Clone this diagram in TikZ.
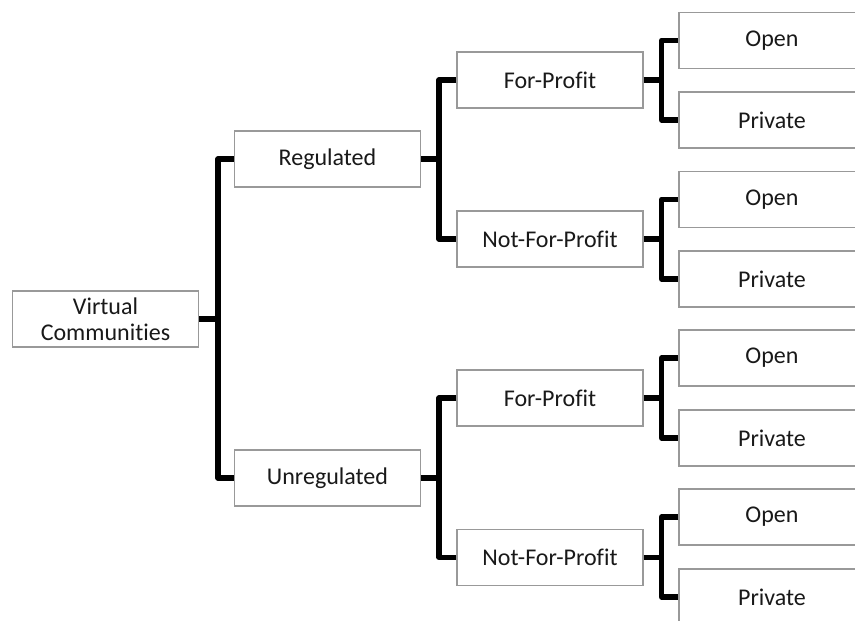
\documentclass[tikz,border=0pt]{standalone}
\usepackage{fontspec}
\setmainfont{Carlito}[Ligatures=NoCommon]
\begin{document}
\begin{tikzpicture}[x=1pt,y=-1pt,
  box/.style={draw=black!40, line width=1.3pt, fill=white, minimum width=186pt,
    minimum height=56pt, inner sep=0pt, align=center, text=black!90,
    font=\fontsize{24}{26}\selectfont},
  conn/.style={draw=black, line width=5.5pt, line join=round}]
\useasboundingbox (0,0) rectangle (855,621);
\clip (0,0) rectangle (855,621);

% root and first split
\node[box] (vc) at (105.5,319) {Virtual\\Communities};
\node[box] (reg) at (327.5,159) {Regulated};
\node[box] (unreg) at (327.5,478) {Unregulated};

% second level
\node[box] (fp1) at (550,80) {For-Profit};
\node[box] (nfp1) at (550,239) {Not-For-Profit};
\node[box] (fp2) at (550,398) {For-Profit};
\node[box] (nfp2) at (550,557.5) {Not-For-Profit};

% leaves
\node[box] (o1) at (772,40.5) {Open};
\node[box] (p1) at (772,120) {Private};
\node[box] (o2) at (772,199.5) {Open};
\node[box] (p2) at (772,279) {Private};
\node[box] (o3) at (772,358) {Open};
\node[box] (p3) at (772,438) {Private};
\node[box] (o4) at (772,517) {Open};
\node[box] (p4) at (772,597) {Private};

% bracket connectors
\coordinate (t0) at ([xshift=19pt]vc.east);
\draw[conn] (vc.east) -- (t0);
\draw[conn] (reg.west) -| (t0) |- (unreg.west);

\foreach \p/\a/\b in {reg/fp1/nfp1, unreg/fp2/nfp2, fp1/o1/p1, nfp1/o2/p2, fp2/o3/p3, nfp2/o4/p4}{
  \coordinate (t-\p) at ([xshift=18pt]\p.east);
  \draw[conn] (\p.east) -- (t-\p);
  \draw[conn] (\a.west) -| (t-\p) |- (\b.west);
}
\end{tikzpicture}
\end{document}
